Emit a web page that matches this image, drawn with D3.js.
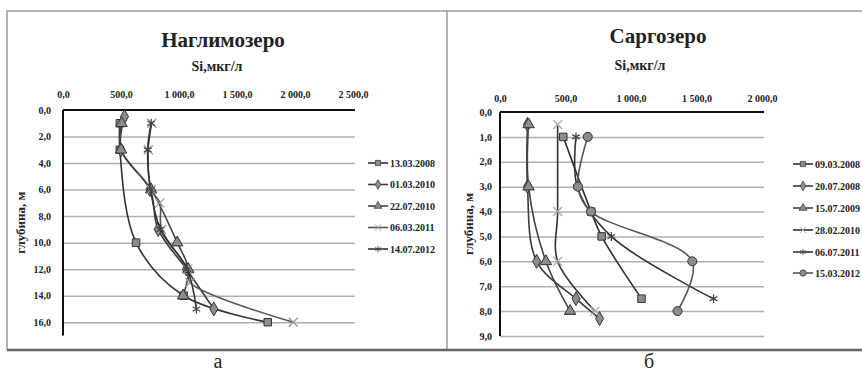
<!DOCTYPE html>
<html>
<head>
<meta charset="utf-8">
<script src="https://cdn.jsdelivr.net/npm/d3@7"></script>
<style>
  body { margin: 0; background: #fff; }
  text { font-family: "Liberation Serif", "DejaVu Serif", "Times New Roman", serif; }
</style>
</head>
<body>
<div id="chart"></div>
<script>
// Наглимозеро
const naglSeries = ["13.03.2008", "01.03.2010", "22.07.2010", "06.03.2011", "14.07.2012"];
const naglDepths = [
  [1, 3, 10, 14, 16],
  [0.5, 3, 6, 9, 12, 15],
  [1, 3, 6, 10, 12, 14],
  [1, 3, 6, 7, 9, 12, 13, 16],
  [1, 3, 6, 9, 12, 15]
];
const naglSi = [
  [490, 490, 630, 1040, 1765],
  [530, 500, 750, 820, 1065, 1300],
  [505, 500, 760, 985, 1080, 1035],
  [765, 735, 760, 835, 850, 1075, 1095, 1985],
  [760, 730, 755, 840, 1070, 1150]
];
const naglXTicks = [0, 500, 1000, 1500, 2000, 2500];
const naglYTicks = [0, 2, 4, 6, 8, 10, 12, 14, 16];

// Саргозеро
const sargSeries = ["09.03.2008", "20.07.2008", "15.07.2009", "28.02.2010", "06.07.2011", "15.03.2012"];
const sargDepths = [
  [1, 4, 5, 7.5],
  [0.5, 3, 6, 7.5, 8.3],
  [0.5, 3, 6, 8],
  [0.5, 4, 6, 8],
  [1, 3, 5, 7.5],
  [1, 3, 4, 6, 8]
];
const sargSi = [
  [483, 695, 776, 1080],
  [210, 210, 280, 580, 760],
  [218, 218, 350, 535],
  [440, 440, 440, 725],
  [580, 590, 850, 1630],
  [670, 595, 695, 1468, 1355]
];
const sargXTicks = [0, 500, 1000, 1500, 2000];
const sargYTicks = [0, 1, 2, 3, 4, 5, 6, 7, 8, 9];

const FONT = "Liberation Serif, DejaVu Serif, serif";

const svg = d3.select("#chart")
  .append("svg")
  .attr("width", 862)
  .attr("height", 375);

// frame round both pictures
svg.append("path")
  .attr("d", "M7,350 L7,11 L862,11 M447,11 L447,350")
  .attr("fill", "none")
  .attr("stroke", "#9a9a9a")
  .attr("stroke-width", 1.5);
svg.append("line")
  .attr("x1", 7).attr("x2", 862).attr("y1", 350).attr("y2", 350)
  .attr("stroke", "#666").attr("stroke-width", 2.5);

const fmt = v => d3.format(",.1f")(v).replace(/,/g, " ").replace(".", ",");

const symbols = {
  square: d3.symbolSquare,
  diamond: d3.symbolDiamond,
  triangle: d3.symbolTriangle,
  x: d3.symbolX,
  star: d3.symbolAsterisk,
  circle: d3.symbolCircle
};

function marker(g, kind, color) {
  const stroked = kind === "x" || kind === "star";
  return g.append("path")
    .attr("d", d3.symbol().type(symbols[kind]).size(kind === "circle" ? 64 : stroked ? 55 : 56))
    .attr("fill", stroked ? "none" : "#8c8c8c")
    .attr("stroke", stroked ? color : "#333")
    .attr("stroke-width", stroked ? 1.3 : 1);
}

function drawPanel(cfg) {
  const x = d3.scaleLinear().domain(cfg.xDomain).range(cfg.xRange);
  const y = d3.scaleLinear().domain(cfg.yDomain).range(cfg.yRange);
  const g = svg.append("g");

  // gridlines
  g.append("g")
    .attr("transform", `translate(${cfg.xRange[0]},0)`)
    .call(d3.axisLeft(y).tickValues(cfg.yTicks.slice(1)).tickSize(-(cfg.gridEnd - cfg.xRange[0])).tickFormat(""))
    .call(a => a.select(".domain").remove())
    .call(a => a.selectAll("line").attr("stroke", "#b0b0b0").attr("stroke-width", 1.5));

  // top axis
  g.append("g")
    .attr("transform", `translate(0,${cfg.yRange[0]})`)
    .attr("font-family", FONT)
    .call(d3.axisTop(x).tickValues(cfg.xTicks).tickSize(0).tickPadding(cfg.xPad).tickFormat(fmt))
    .call(a => a.select(".domain").remove())
    .call(a => a.selectAll("text")
      .attr("font-size", 10).attr("font-weight", "bold").attr("fill", "#222"));
  g.append("line")
    .attr("x1", cfg.xRange[0]).attr("x2", cfg.gridEnd)
    .attr("y1", cfg.yRange[0]).attr("y2", cfg.yRange[0])
    .attr("stroke", "#111").attr("stroke-width", 2);

  // left axis
  g.append("g")
    .attr("transform", `translate(${cfg.xRange[0]},0)`)
    .attr("font-family", FONT)
    .call(d3.axisLeft(y).tickValues(cfg.yTicks).tickSize(0).tickPadding(cfg.yPad).tickFormat(fmt))
    .call(a => a.select(".domain").remove())
    .call(a => a.selectAll("text")
      .attr("font-size", 10).attr("font-weight", "bold").attr("fill", "#222"));
  g.append("line")
    .attr("x1", cfg.xRange[0]).attr("x2", cfg.xRange[0])
    .attr("y1", cfg.yRange[0]).attr("y2", cfg.yRange[1])
    .attr("stroke", "#111").attr("stroke-width", 2);

  // titles
  g.append("text")
    .attr("x", cfg.titleX).attr("y", cfg.titleY)
    .attr("text-anchor", "middle")
    .attr("font-size", 21).attr("font-weight", "bold").attr("fill", "#222")
    .text(cfg.title);
  g.append("text")
    .attr("x", cfg.unitX).attr("y", cfg.unitY)
    .attr("text-anchor", "middle")
    .attr("font-size", 14).attr("font-weight", "bold").attr("fill", "#222")
    .text("Si,мкг/л");
  g.append("text")
    .attr("transform", `translate(${cfg.depthX},${(cfg.yRange[0] + cfg.yRange[1]) / 2}) rotate(-90)`)
    .attr("text-anchor", "middle")
    .attr("font-size", 13).attr("font-weight", "bold").attr("fill", "#222")
    .text("глубина, м");
  svg.append("text")
    .attr("x", cfg.letterX).attr("y", 368)
    .attr("text-anchor", "middle")
    .attr("font-size", 20).attr("fill", "#222")
    .text(cfg.letter);

  // series
  const line = d3.line()
    .x(d => x(d[1]))
    .y(d => y(d[0]))
    .curve(d3.curveCatmullRom.alpha(0.5));

  cfg.names.forEach((name, i) => {
    const pts = cfg.depths[i].map((dp, j) => [dp, cfg.si[i][j]]);
    g.append("path")
      .datum(pts)
      .attr("d", line)
      .attr("fill", "none")
      .attr("stroke", cfg.colors[i])
      .attr("stroke-width", 1.6);
    pts.forEach(p => {
      marker(g, cfg.markers[i], cfg.markColors[i])
        .attr("transform", `translate(${x(p[1])},${y(p[0])})`);
    });

    // legend
    const ly = cfg.legendY[i];
    g.append("line")
      .attr("x1", cfg.legendX).attr("x2", cfg.legendX + 20)
      .attr("y1", ly).attr("y2", ly)
      .attr("stroke", cfg.colors[i]).attr("stroke-width", 1.6);
    marker(g, cfg.markers[i], cfg.markColors[i])
      .attr("transform", `translate(${cfg.legendX + 10},${ly}) scale(0.7)`);
    g.append("text")
      .attr("x", cfg.legendX + 22).attr("y", ly)
      .attr("dy", "0.35em")
      .attr("font-size", 10).attr("font-weight", "bold").attr("fill", "#222")
      .text(name);
  });
}

drawPanel({
  title: "Наглимозеро", titleX: 223, titleY: 47,
  unitX: 217, unitY: 71, depthX: 25, letter: "а", letterX: 218,
  xDomain: [0, 2500], xRange: [63, 353], gridEnd: 355, xTicks: naglXTicks, xPad: 12,
  yDomain: [0, 17], yRange: [110, 335.5], yTicks: naglYTicks, yPad: 12,
  names: naglSeries, depths: naglDepths, si: naglSi,
  markers: ["square", "diamond", "triangle", "x", "star"],
  colors: ["#333", "#3a3a3a", "#444", "#555", "#333"],
  markColors: ["#333", "#333", "#333", "#999", "#444"],
  legendX: 368, legendY: [163, 184.5, 206, 227.5, 249]
});

drawPanel({
  title: "Саргозеро", titleX: 658, titleY: 43,
  unitX: 640, unitY: 70, depthX: 473, letter: "б", letterX: 649,
  xDomain: [0, 2000], xRange: [500, 762], gridEnd: 764, xTicks: sargXTicks, xPad: 10,
  yDomain: [0, 9], yRange: [112, 336], yTicks: sargYTicks, yPad: 8,
  names: sargSeries, depths: sargDepths, si: sargSi,
  markers: ["square", "diamond", "triangle", "x", "star", "circle"],
  colors: ["#333", "#3a3a3a", "#444", "#333", "#333", "#555"],
  markColors: ["#333", "#333", "#333", "#aaa", "#444", "#333"],
  legendX: 793, legendY: [164, 186, 208, 230, 252, 273]
});
</script>
</body>
</html>
